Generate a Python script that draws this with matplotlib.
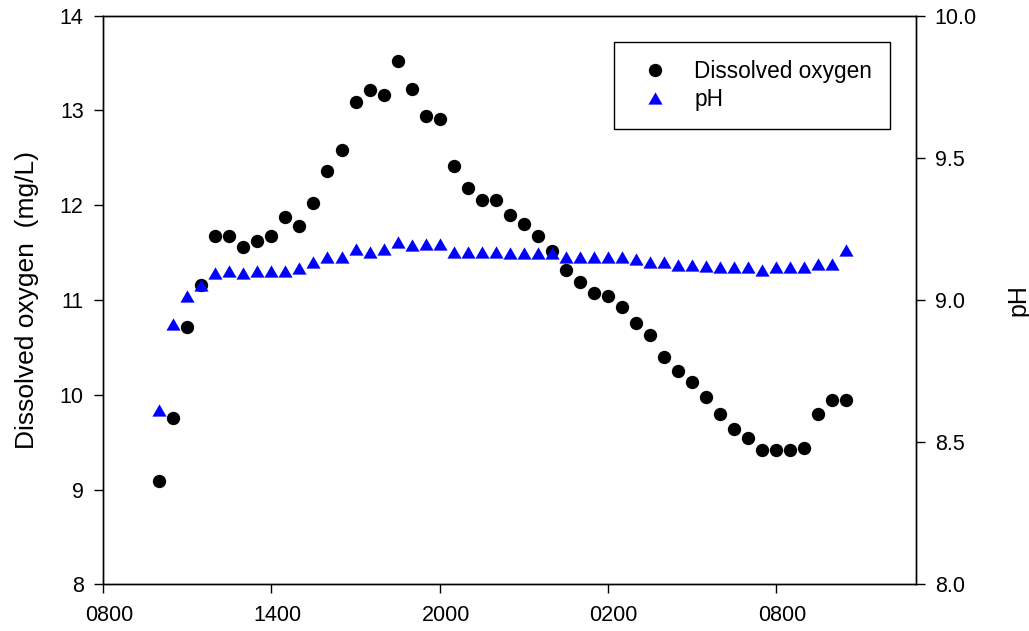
import matplotlib
matplotlib.use("Agg")
import matplotlib.pyplot as plt
import matplotlib.transforms as mtransforms
from matplotlib.path import Path

plt.rcParams['font.family'] = ['Liberation Sans', 'DejaVu Sans']

# Time of sampling, hours since midnight of the first day
hours = [10.0, 10.5, 11.0, 11.5, 12.0, 12.5, 13.0, 13.5, 14.0, 14.5,
         15.0, 15.5, 16.0, 16.5, 17.0, 17.5, 18.0, 18.5, 19.0, 19.5,
         20.0, 20.5, 21.0, 21.5, 22.0, 22.5, 23.0, 23.5, 24.0, 24.5,
         25.0, 25.5, 26.0, 26.5, 27.0, 27.5, 28.0, 28.5, 29.0, 29.5,
         30.0, 30.5, 31.0, 31.5, 32.0, 32.5, 33.0, 33.5, 34.0, 34.5]

dissolved_oxygen = [9.09, 9.75, 10.71, 11.16, 11.675, 11.675, 11.556, 11.62, 11.675, 11.88,
                    11.78, 12.02, 12.365, 12.58, 13.09, 13.22, 13.16, 13.525, 13.23, 12.94,
                    12.91, 12.41, 12.185, 12.055, 12.055, 11.90, 11.80, 11.675, 11.52, 11.32,
                    11.19, 11.07, 11.04, 10.93, 10.755, 10.63, 10.40, 10.25, 10.135, 9.98,
                    9.80, 9.635, 9.54, 9.42, 9.42, 9.42, 9.435, 9.80, 9.94, 9.945]

ph = [8.614, 8.916, 9.015, 9.053, 9.094, 9.103, 9.094, 9.103, 9.103, 9.103,
      9.111, 9.133, 9.152, 9.152, 9.179, 9.170, 9.179, 9.203, 9.193, 9.197,
      9.197, 9.169, 9.169, 9.169, 9.169, 9.164, 9.164, 9.164, 9.164, 9.152,
      9.152, 9.152, 9.152, 9.152, 9.144, 9.133, 9.133, 9.123, 9.123, 9.121,
      9.117, 9.117, 9.117, 9.105, 9.117, 9.117, 9.117, 9.127, 9.127, 9.175]

x_ticks = [8, 14, 20, 26, 32]
x_tick_labels = ["0800", "1400", "2000", "0200", "0800"]
do_ticks = [8, 9, 10, 11, 12, 13, 14]
ph_ticks = [8.0, 8.5, 9.0, 9.5, 10.0]
ph_tick_labels = ["8.0", "8.5", "9.0", "9.5", "10.0"]

W, H = 1029, 631
fig = plt.figure(figsize=(W / 100, H / 100), dpi=100)
left, right, top, bottom = 103.3, 916.0, 15.7, 584.3
ax = fig.add_axes([left / W, 1 - bottom / H, (right - left) / W, (bottom - top) / H])
ax2 = ax.twinx()

tri = Path([(-1, -0.866), (1, -0.866), (0, 0.866), (-1, -0.866)],
           [Path.MOVETO, Path.LINETO, Path.LINETO, Path.CLOSEPOLY])

ax.plot(hours, dissolved_oxygen, linestyle='none', marker='o', markersize=9.6,
        color='black', markeredgewidth=0, label='Dissolved oxygen')
ax2.plot(hours, ph, linestyle='none', marker=tri, markersize=10.2,
         color='#0000FF', markeredgewidth=0, label='pH')

ax.set_xlim(8, 37)
ax.set_ylim(8, 14)
ax2.set_ylim(8, 10)

ax.set_xticks(x_ticks)
ax.set_xticklabels(x_tick_labels)
ax.set_yticks(do_ticks)
ax2.set_yticks(ph_ticks)
ax2.set_yticklabels(ph_tick_labels)

tick_fs = 15.5
ax.tick_params(axis='x', direction='out', length=6.5, width=1.0, pad=8.6, labelsize=tick_fs)
ax.tick_params(axis='y', direction='out', length=6.5, width=1.0, pad=7.6, labelsize=tick_fs)
ax2.tick_params(axis='y', direction='out', length=6.5, width=1.0, pad=7, labelsize=tick_fs)

# x tick labels sit slightly right of their ticks in the original
shift = mtransforms.ScaledTranslation(6 / 100, 0, fig.dpi_scale_trans)
for lbl in ax.get_xticklabels():
    lbl.set_transform(lbl.get_transform() + shift)

for a in (ax, ax2):
    for s in a.spines.values():
        s.set_linewidth(1.0)

ax.set_ylabel('Dissolved oxygen  (mg/L)', fontsize=19)
ax.yaxis.set_label_coords((39 - left) / (right - left), 0.5)
ax2.set_ylabel('pH', fontsize=18)
ax2.yaxis.set_label_coords((1006 - left) / (right - left), 0.5)

h1, l1 = ax.get_legend_handles_labels()
h2, l2 = ax2.get_legend_handles_labels()
leg = ax2.legend(h1 + h2, l1 + l2, loc='upper left',
                 bbox_to_anchor=(614 / W, 1 - 41.7 / H), bbox_transform=fig.transFigure,
                 fontsize=16.3, frameon=True, fancybox=False, shadow=False,
                 borderpad=0.79, labelspacing=0.24, handlelength=2.03,
                 handletextpad=0.72, borderaxespad=0, numpoints=1)
frame = leg.get_frame()
frame.set_edgecolor('black')
frame.set_linewidth(1.0)
frame.set_alpha(1)

fig.savefig('out.png', dpi=100)
